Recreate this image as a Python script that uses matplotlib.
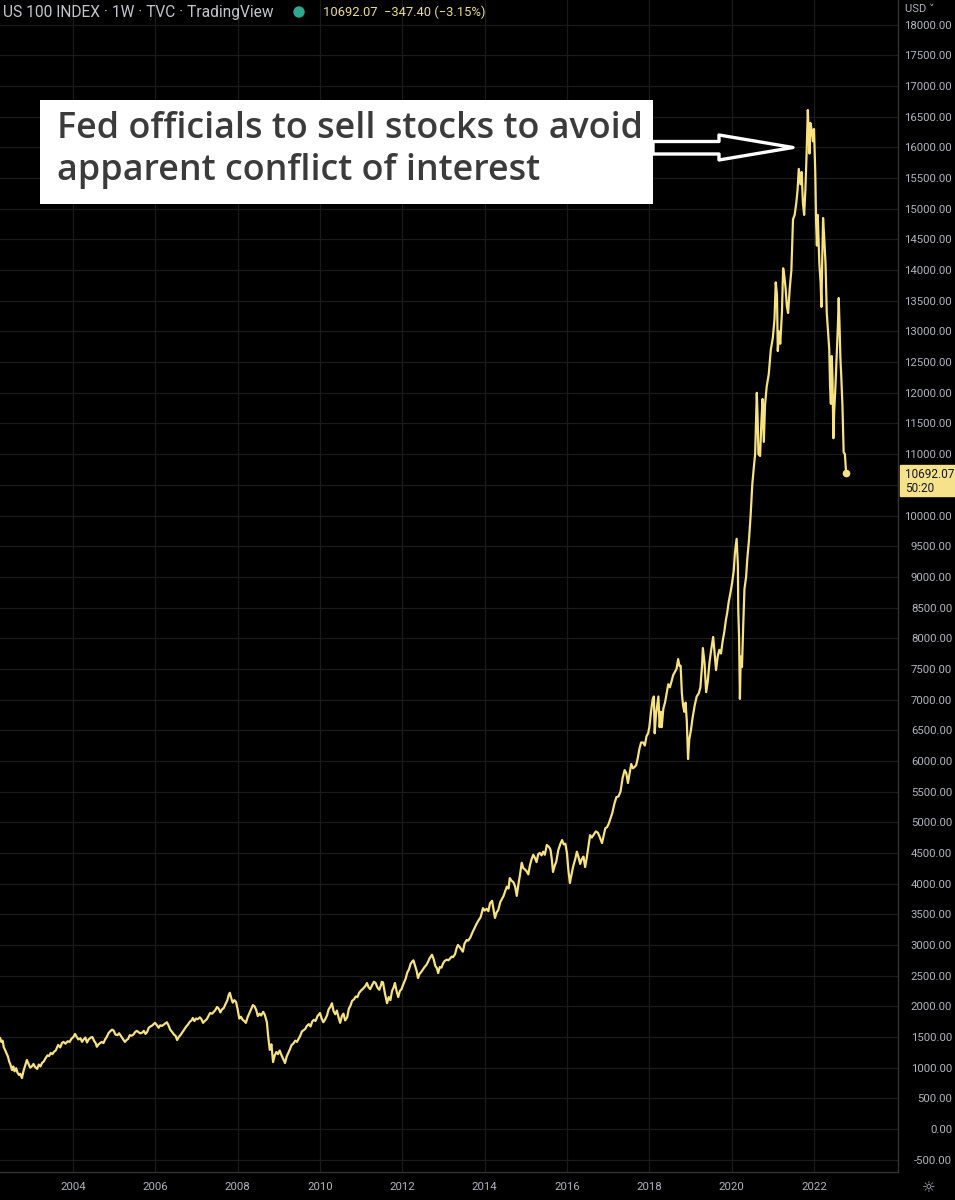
import matplotlib.pyplot as plt
from matplotlib.patches import Rectangle, Polygon, Ellipse

# weekly-ish closes of the US 100 index (decimal year, value)
years = [
    2002.23, 2002.26, 2002.29, 2002.32, 2002.35, 2002.38, 2002.42, 2002.45, 2002.48, 2002.52,
    2002.55, 2002.58, 2002.62, 2002.65, 2002.69, 2002.72, 2002.76, 2002.80, 2002.84, 2002.88,
    2002.92, 2002.96, 2003.00, 2003.04, 2003.08, 2003.13, 2003.17, 2003.21, 2003.25, 2003.29,
    2003.33, 2003.38, 2003.42, 2003.46, 2003.50, 2003.54, 2003.58, 2003.64, 2003.69, 2003.73,
    2003.77, 2003.82, 2003.87, 2003.92, 2003.96, 2004.01, 2004.05, 2004.09, 2004.13, 2004.18,
    2004.22, 2004.26, 2004.30, 2004.34, 2004.38, 2004.43, 2004.47, 2004.51, 2004.55, 2004.58,
    2004.62, 2004.66, 2004.70, 2004.74, 2004.78, 2004.82, 2004.86, 2004.90, 2004.95, 2004.99,
    2005.03, 2005.08, 2005.12, 2005.16, 2005.20, 2005.26, 2005.30, 2005.34, 2005.38, 2005.42,
    2005.47, 2005.51, 2005.55, 2005.59, 2005.63, 2005.68, 2005.72, 2005.76, 2005.80, 2005.84,
    2005.88, 2005.93, 2005.99, 2006.03, 2006.08, 2006.12, 2006.16, 2006.22, 2006.28, 2006.32,
    2006.36, 2006.41, 2006.45, 2006.49, 2006.53, 2006.57, 2006.61, 2006.66, 2006.70, 2006.75,
    2006.79, 2006.84, 2006.88, 2006.91, 2006.95, 2006.99, 2007.03, 2007.08, 2007.12, 2007.16,
    2007.20, 2007.25, 2007.29, 2007.33, 2007.38, 2007.42, 2007.46, 2007.50, 2007.54, 2007.58,
    2007.62, 2007.66, 2007.70, 2007.75, 2007.78, 2007.81, 2007.85, 2007.88, 2007.92, 2007.96,
    2008.00, 2008.04, 2008.08, 2008.12, 2008.16, 2008.20, 2008.24, 2008.28, 2008.33, 2008.37,
    2008.41, 2008.45, 2008.49, 2008.53, 2008.57, 2008.62, 2008.66, 2008.71, 2008.74, 2008.78,
    2008.82, 2008.86, 2008.90, 2008.94, 2008.98, 2009.02, 2009.06, 2009.10, 2009.15, 2009.19,
    2009.23, 2009.27, 2009.31, 2009.35, 2009.40, 2009.44, 2009.48, 2009.52, 2009.56, 2009.60,
    2009.64, 2009.68, 2009.73, 2009.77, 2009.81, 2009.85, 2009.89, 2009.94, 2010.00, 2010.04,
    2010.08, 2010.12, 2010.17, 2010.21, 2010.25, 2010.29, 2010.33, 2010.37, 2010.41, 2010.45,
    2010.49, 2010.53, 2010.57, 2010.61, 2010.66, 2010.70, 2010.74, 2010.78, 2010.82, 2010.87,
    2010.91, 2010.95, 2011.00, 2011.05, 2011.10, 2011.14, 2011.18, 2011.22, 2011.27, 2011.31,
    2011.35, 2011.40, 2011.44, 2011.48, 2011.50, 2011.53, 2011.58, 2011.63, 2011.67, 2011.71,
    2011.75, 2011.79, 2011.82, 2011.86, 2011.90, 2011.94, 2011.98, 2012.03, 2012.08, 2012.12,
    2012.16, 2012.20, 2012.24, 2012.27, 2012.31, 2012.35, 2012.38, 2012.42, 2012.46, 2012.50,
    2012.54, 2012.58, 2012.62, 2012.66, 2012.72, 2012.76, 2012.80, 2012.84, 2012.87, 2012.91,
    2012.95, 2012.99, 2013.03, 2013.08, 2013.12, 2013.16, 2013.20, 2013.23, 2013.28, 2013.32,
    2013.35, 2013.40, 2013.44, 2013.47, 2013.51, 2013.56, 2013.60, 2013.65, 2013.70, 2013.75,
    2013.80, 2013.85, 2013.90, 2013.96, 2014.00, 2014.05, 2014.09, 2014.13, 2014.18, 2014.21,
    2014.25, 2014.29, 2014.33, 2014.38, 2014.42, 2014.46, 2014.50, 2014.54, 2014.58, 2014.61,
    2014.65, 2014.70, 2014.74, 2014.78, 2014.82, 2014.86, 2014.90, 2014.94, 2014.98, 2015.02,
    2015.06, 2015.10, 2015.14, 2015.18, 2015.22, 2015.26, 2015.30, 2015.34, 2015.38, 2015.42,
    2015.46, 2015.51, 2015.56, 2015.60, 2015.63, 2015.66, 2015.70, 2015.74, 2015.79, 2015.84,
    2015.88, 2015.92, 2015.96, 2016.00, 2016.03, 2016.07, 2016.11, 2016.15, 2016.20, 2016.24,
    2016.28, 2016.32, 2016.36, 2016.40, 2016.44, 2016.48, 2016.52, 2016.56, 2016.60, 2016.65,
    2016.70, 2016.75, 2016.80, 2016.85, 2016.89, 2016.93, 2016.97, 2017.01, 2017.05, 2017.10,
    2017.15, 2017.20, 2017.25, 2017.30, 2017.35, 2017.40, 2017.44, 2017.48, 2017.52, 2017.56,
    2017.60, 2017.64, 2017.68, 2017.72, 2017.76, 2017.80, 2017.85, 2017.89, 2017.93, 2017.97,
    2018.00, 2018.04, 2018.08, 2018.11, 2018.13, 2018.16, 2018.19, 2018.22, 2018.25, 2018.28,
    2018.30, 2018.34, 2018.38, 2018.42, 2018.46, 2018.50, 2018.54, 2018.58, 2018.62, 2018.66,
    2018.70, 2018.73, 2018.76, 2018.79, 2018.82, 2018.85, 2018.88, 2018.91, 2018.94, 2018.97,
    2019.01, 2019.05, 2019.10, 2019.15, 2019.20, 2019.24, 2019.28, 2019.30, 2019.34, 2019.38,
    2019.42, 2019.46, 2019.50, 2019.55, 2019.58, 2019.62, 2019.66, 2019.70, 2019.74, 2019.78,
    2019.82, 2019.86, 2019.89, 2019.93, 2019.97, 2020.01, 2020.05, 2020.08, 2020.12, 2020.15,
    2020.16, 2020.18, 2020.20, 2020.22, 2020.25, 2020.28, 2020.31, 2020.35, 2020.38, 2020.42,
    2020.46, 2020.50, 2020.54, 2020.57, 2020.61, 2020.63, 2020.65, 2020.69, 2020.72, 2020.75,
    2020.78, 2020.81, 2020.85, 2020.90, 2020.95, 2021.00, 2021.04, 2021.07, 2021.10, 2021.12,
    2021.15, 2021.18, 2021.22, 2021.25, 2021.28, 2021.31, 2021.34, 2021.37, 2021.41, 2021.45,
    2021.49, 2021.53, 2021.57, 2021.60, 2021.63, 2021.67, 2021.70, 2021.73, 2021.76, 2021.79,
    2021.82, 2021.85, 2021.87, 2021.89, 2021.91, 2021.94, 2021.97, 2022.00, 2022.03, 2022.05,
    2022.07, 2022.09, 2022.11, 2022.13, 2022.16, 2022.18, 2022.20, 2022.22, 2022.25, 2022.28,
    2022.31, 2022.34, 2022.37, 2022.39, 2022.41, 2022.43, 2022.45, 2022.47, 2022.49, 2022.52,
    2022.55, 2022.58, 2022.60, 2022.62, 2022.64, 2022.66, 2022.69, 2022.72, 2022.75, 2022.78,
]
close = [
    1480, 1420, 1440, 1330, 1290, 1240, 1180, 1100, 1050, 960,
    1020, 940, 990, 920, 880, 900, 830, 950, 1040, 1125,
    1060, 1000, 1020, 1060, 1010, 980, 1050, 1020, 1080, 1100,
    1150, 1200, 1190, 1240, 1220, 1260, 1280, 1370, 1330, 1400,
    1420, 1390, 1430, 1420, 1470, 1500, 1550, 1500, 1460, 1480,
    1420, 1460, 1490, 1410, 1460, 1490, 1500, 1440, 1400, 1340,
    1380, 1400, 1420, 1400, 1460, 1500, 1560, 1590, 1620, 1600,
    1540, 1530, 1560, 1520, 1480, 1420, 1450, 1470, 1530, 1520,
    1540, 1580, 1600, 1580, 1560, 1570, 1600, 1550, 1580, 1650,
    1670, 1690, 1730, 1700, 1650, 1690, 1680, 1710, 1740, 1690,
    1620, 1580, 1540, 1520, 1450, 1500, 1530, 1580, 1620, 1670,
    1700, 1750, 1770, 1810, 1760, 1800, 1790, 1820, 1790, 1730,
    1760, 1790, 1840, 1890, 1880, 1910, 1940, 1990, 1960, 1900,
    1950, 1970, 2030, 2100, 2180, 2220, 2120, 2060, 2100, 2070,
    1950, 1800, 1830, 1780, 1760, 1730, 1820, 1880, 1960, 2020,
    2000, 1940, 1840, 1880, 1850, 1910, 1860, 1740, 1520, 1290,
    1380, 1090, 1200, 1255, 1220, 1280, 1210, 1150, 1075, 1180,
    1240, 1300, 1370, 1390, 1440, 1420, 1470, 1520, 1590, 1610,
    1630, 1680, 1710, 1670, 1750, 1780, 1760, 1840, 1890, 1800,
    1740, 1780, 1850, 1950, 1990, 2050, 1920, 1870, 1930, 1820,
    1730, 1840, 1880, 1770, 1820, 1960, 2010, 2090, 2110, 2160,
    2150, 2220, 2260, 2290, 2330, 2380, 2310, 2280, 2350, 2400,
    2380, 2300, 2270, 2340, 2400, 2390, 2200, 2050, 2150, 2100,
    2250, 2310, 2380, 2250, 2150, 2250, 2280, 2370, 2450, 2550,
    2600, 2690, 2730, 2750, 2660, 2570, 2460, 2530, 2560, 2600,
    2640, 2670, 2720, 2780, 2840, 2770, 2660, 2620, 2540, 2640,
    2630, 2700, 2740, 2760, 2750, 2780, 2810, 2800, 2850, 2950,
    3000, 2960, 2920, 2890, 3020, 3080, 3070, 3120, 3200, 3270,
    3340, 3400, 3450, 3600, 3560, 3590, 3550, 3680, 3720, 3600,
    3440, 3530, 3570, 3700, 3750, 3800, 3880, 3950, 3920, 4090,
    4050, 4020, 3950, 3800, 3990, 4150, 4340, 4250, 4230, 4200,
    4150, 4300, 4400, 4470, 4420, 4350, 4480, 4500, 4460, 4520,
    4470, 4630, 4600, 4550, 4400, 4190, 4290, 4360, 4550, 4650,
    4710, 4640, 4650, 4490, 4240, 4010, 4150, 4280, 4400, 4520,
    4430, 4320, 4400, 4440, 4270, 4420, 4600, 4790, 4750, 4800,
    4850, 4830, 4750, 4660, 4780, 4900, 4920, 4970, 5050, 5150,
    5300, 5410, 5420, 5500, 5720, 5850, 5800, 5640, 5800, 5950,
    5880, 5900, 5930, 6050, 6200, 6300, 6300, 6250, 6400, 6450,
    6550, 6800, 7000, 7050, 6450, 6750, 6900, 7050, 6550, 6800,
    6550, 6850, 6950, 7100, 7250, 7200, 7300, 7400, 7450, 7500,
    7660, 7550, 7550, 7100, 6900, 6800, 6950, 6650, 6030, 6350,
    6500, 6700, 6900, 7050, 7100, 7200, 7550, 7840, 7600, 7120,
    7300, 7600, 7800, 8020, 7800, 7480, 7700, 7810, 7750, 7950,
    8100, 8300, 8410, 8600, 8740, 8900, 9100, 9400, 9620, 9200,
    8460, 8000, 7010, 7700, 7530, 8200, 8800, 9000, 9300, 9600,
    10000, 10500, 10800, 11000, 12000, 11600, 11000, 10970, 11500, 11900,
    11200, 11800, 12100, 12300, 12700, 12900, 13200, 13800, 13600, 12680,
    13000, 12800, 13300, 14030, 13900, 13700, 13410, 13300, 13700, 14000,
    14830, 14900, 15100, 15300, 15650, 15400, 15600, 15100, 14900, 15300,
    15900, 16610, 16200, 15900, 16400, 16300, 16100, 16300, 15600, 14800,
    14400, 14900, 14500, 14100, 13800, 13400, 14200, 14850, 14500, 14100,
    13300, 13000, 12710, 12100, 11820, 12600, 12200, 11260, 11700, 12100,
    12600, 13100, 13545, 13100, 12580, 12300, 11800, 11030, 11000, 10692,
]
year_ticks = [2004, 2006, 2008, 2010, 2012, 2014, 2016, 2018, 2020, 2022]
price_ticks = list(range(-500, 18001, 500))
hidden_tick = 10500  # covered by the last-price tag in the reference

W, H = 955, 1200
def px(x, y):
    return (x / W, 1 - y / H)

grey = '#b2b5be'
line_col = '#f6e27f'
fam = ['Roboto', 'DejaVu Sans']

fig = plt.figure(figsize=(9.55, 12), dpi=100, facecolor='black')
ax = fig.add_axes([0, 28 / H, 898 / W, 1172 / H])
ax.set_facecolor('black')

ax.plot(years, close, color=line_col, lw=1.6, zorder=3)
ax.plot(years[-1], close[-1], 'o', color=line_col, ms=4.5, zorder=4)

ax.set_xlim(2002.227, 2024.04)
ax.set_ylim(-701, 18403)

ax.set_xticks(year_ticks)
ax.set_xticklabels([str(y) for y in year_ticks])
ax.set_yticks(price_ticks)
ax.set_yticklabels(['' if v == hidden_tick else f'{v:.2f}' for v in price_ticks])
ax.yaxis.tick_right()
ax.tick_params(axis='both', length=0, colors=grey, labelsize=8.2)
ax.tick_params(axis='y', pad=39)
ax.tick_params(axis='x', pad=7)
for lab in ax.get_yticklabels():
    lab.set_horizontalalignment('right')
    lab.set_fontfamily(fam)
for lab in ax.get_xticklabels():
    lab.set_fontfamily(fam)

ax.grid(True, color='#1b1b1b', lw=0.9)
ax.set_axisbelow(True)
for s in ['top', 'left']:
    ax.spines[s].set_visible(False)
for s in ['right', 'bottom']:
    ax.spines[s].set_color('#333333')
    ax.spines[s].set_linewidth(1)

# header
fig.text(*px(3, 12), 'US 100 INDEX · 1W · TVC · TradingView', color='#c3c5cc',
         fontsize=11.2, va='center', family=fam)
fig.add_artist(Ellipse(px(299, 12), 10 / W, 10 / H, color='#2fa88f',
                       transform=fig.transFigure))
fig.text(*px(323, 12), '10692.07  \u2212347.40 (\u22123.15%)', color='#ecdc8a',
         fontsize=9.4, va='center', family=fam)
fig.text(*px(905, 9), 'USD \u02c5', color=grey, fontsize=8, va='center', family=fam)
fig.text(*px(929, 1188), '\u263c', color=grey, fontsize=11, va='center', ha='center')

# last price tag
fig.add_artist(Rectangle(px(900, 496), 55 / W, 31 / H, color='#f5e28a',
                         transform=fig.transFigure, zorder=5))
fig.text(*px(905, 474), '10692.07', color='#131722', fontsize=8.5, va='center',
         family=fam, zorder=6)
fig.text(*px(905, 489), '50:20', color='#131722', fontsize=8.5, va='center',
         family=fam, zorder=6)

# headline box and arrow
fig.add_artist(Rectangle(px(40, 204), 613 / W, 104 / H, facecolor='white',
                         edgecolor='none', transform=fig.transFigure, zorder=7))
fig.text(*px(57, 138), 'Fed officials to sell stocks to avoid', color='#3b3b3b',
         fontsize=25.8, fontweight=600, family='Open Sans', va='baseline', zorder=8)
fig.text(*px(57, 180), 'apparent conflict of interest', color='#3b3b3b',
         fontsize=25.8, fontweight=600, family='Open Sans', va='baseline', zorder=8)
arrow = [px(653, 141.5), px(719, 141.5), px(719, 135), px(793, 147.5),
         px(719, 160), px(719, 154), px(653, 154)]
fig.add_artist(Polygon(arrow, closed=True, facecolor='black', edgecolor='white',
                       lw=2.4, joinstyle='round', transform=fig.transFigure, zorder=7))

fig.savefig('out.png', dpi=100, facecolor='black')
